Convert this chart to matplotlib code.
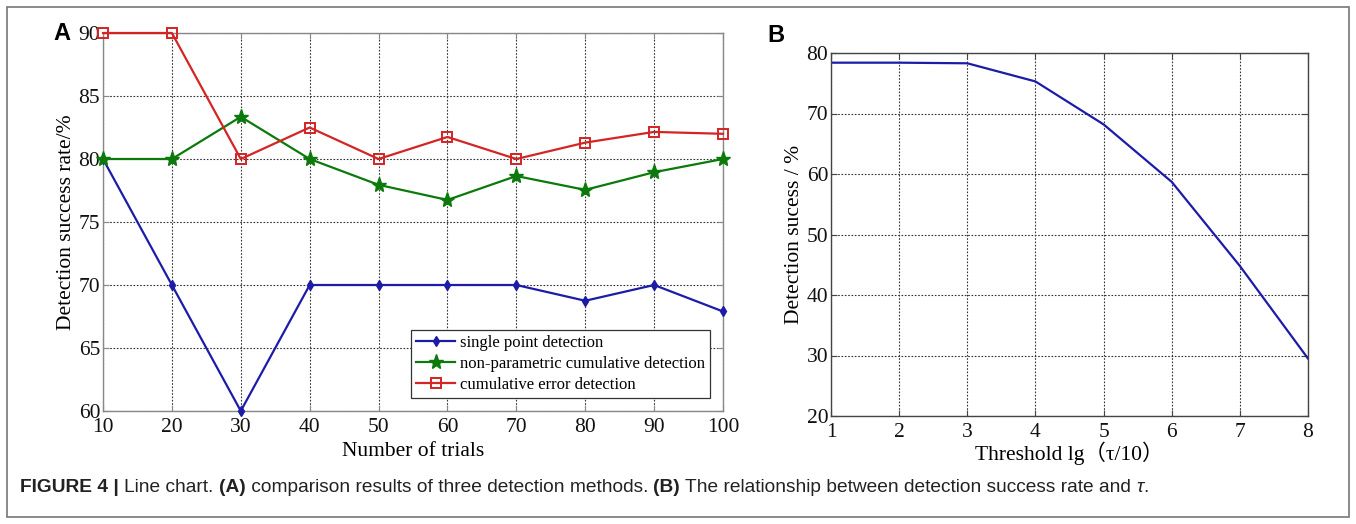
import numpy as np
import matplotlib.pyplot as plt
from matplotlib.patches import Rectangle

# Panel A: comparison of three detection methods
trials = [10, 20, 30, 40, 50, 60, 70, 80, 90, 100]
single_point = [80, 70, 60, 70, 70, 70, 70, 68.75, 70, 67.9]
nonparam_cum = [80, 80, 83.35, 80, 77.95, 76.75, 78.65, 77.55, 78.95, 80]
cum_error = [90, 90, 80, 82.5, 80, 81.75, 80, 81.3, 82.15, 82.0]

# Panel B: success rate vs threshold
threshold = [1, 2, 3, 4, 5, 6, 7, 8]
success_b = [78.4, 78.4, 78.3, 75.3, 68.2, 58.7, 44.8, 29.5]

W, H = 1356, 524
fig = plt.figure(figsize=(W / 100, H / 100), dpi=100)

serif = ['Liberation Serif', 'DejaVu Serif']
sans = ['Liberation Sans', 'DejaVu Sans']

# outer frame
fig.patches.append(Rectangle((7 / W, 7 / H), (W - 14) / W, (H - 14) / H,
                             transform=fig.transFigure, fill=False,
                             edgecolor='#777777', lw=1.2))

blue = '#1c1ca8'
green = '#0b7a0b'
red = '#d42424'


def style_axes(ax, spine_col):
    ax.grid(True, linestyle=(0, (1.5, 1.5)), color='#333333', lw=0.8)
    ax.tick_params(direction='in', top=True, right=True, length=4,
                   width=0.8, color=spine_col)
    ax.tick_params(axis='x', pad=5)
    ax.tick_params(axis='y', pad=2)
    for s in ax.spines.values():
        s.set_color(spine_col)
        s.set_linewidth(1.0)
    for lab in ax.get_xticklabels() + ax.get_yticklabels():
        lab.set_family(serif)
        lab.set_fontsize(15.5)
        lab.set_color('#111111')


# ---- Panel A ----
axA = fig.add_axes([103 / W, 1 - 411 / H, 620 / W, 378 / H])
axA.plot(trials, single_point, color=blue, lw=1.6, marker='d', ms=5,
         label='single point detection', clip_on=False, zorder=3)
axA.plot(trials, nonparam_cum, color=green, lw=1.6, marker='*', ms=11,
         label='non-parametric cumulative detection', clip_on=False, zorder=3)
axA.plot(trials, cum_error, color=red, lw=1.6, marker='s', ms=7.5, mfc='none',
         mew=1.4, label='cumulative error detection', clip_on=False, zorder=3)
axA.set_xlim(10, 100)
axA.set_ylim(60, 90)
axA.set_xticks(trials)
axA.set_yticks(np.arange(60, 91, 5))
style_axes(axA, '#888888')
axA.set_xlabel('Number of trials', family=serif, fontsize=15.5, labelpad=4)
axA.set_ylabel('Detection success rate/%', family=serif, fontsize=15.5,
               labelpad=2)
leg = axA.legend(loc='lower right', bbox_to_anchor=(0.992, 0.012),
                 prop={'family': serif, 'size': 12}, frameon=True,
                 fancybox=False, edgecolor='#333333', framealpha=1,
                 handlelength=2.3, handletextpad=0.3, borderpad=0.3,
                 labelspacing=0.3)
leg.get_frame().set_linewidth(0.9)
fig.text(62 / W, 1 - 33 / H, 'A', family=sans, fontsize=17, weight='bold',
         ha='center', va='center')

# ---- Panel B ----
axB = fig.add_axes([831 / W, 1 - 416 / H, 477 / W, 363 / H])
axB.plot(threshold, success_b, color=blue, lw=1.6)
axB.set_xlim(1, 8)
axB.set_ylim(20, 80)
axB.set_xticks(threshold)
axB.set_yticks(np.arange(20, 81, 10))
style_axes(axB, '#444444')
axB.set_xlabel('Threshold lg\uff08\u03c4/10\uff09',
               family=['Liberation Serif', 'Noto Sans CJK SC'],
               fontsize=15.5, labelpad=0)
axB.set_ylabel('Detection sucess / %', family=serif, fontsize=15.5,
               labelpad=2)
fig.text(776 / W, 1 - 35 / H, 'B', family=sans, fontsize=17, weight='bold',
         ha='center', va='center')

# ---- caption ----
parts = [('FIGURE 4 | ', 'bold', 'normal'),
         ('Line chart. ', 'normal', 'normal'),
         ('(A)', 'bold', 'normal'),
         (' comparison results of three detection methods. ', 'normal', 'normal'),
         ('(B)', 'bold', 'normal'),
         (' The relationship between detection success rate and ', 'normal', 'normal'),
         ('\u03c4', 'normal', 'italic'),
         ('.', 'normal', 'normal')]
fig.canvas.draw()
r = fig.canvas.get_renderer()
x = 20 / W
y = 1 - 487 / H
for txt, wt, st in parts:
    t = fig.text(x, y, txt, family=sans, fontsize=13.8, weight=wt, style=st,
                 color='#222222', va='center', ha='left')
    bb = t.get_window_extent(renderer=r)
    x += bb.width / W

fig.savefig('out.png', dpi=100)
